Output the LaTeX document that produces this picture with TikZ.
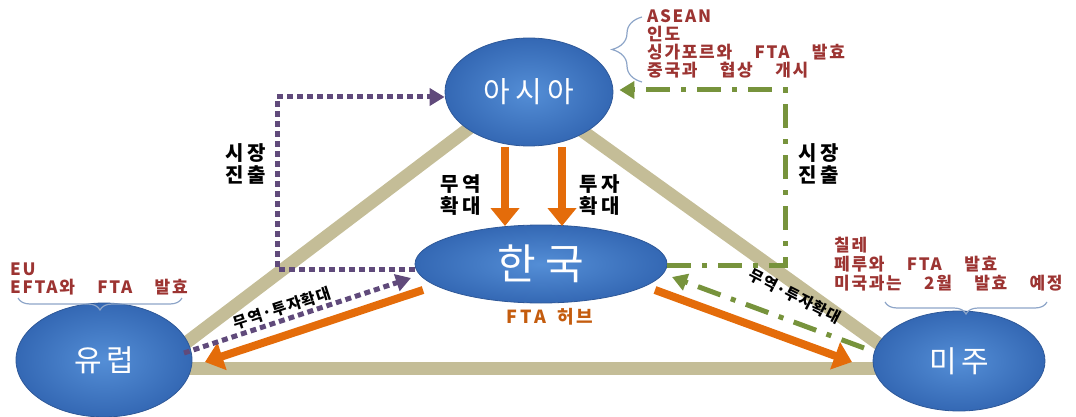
\documentclass[tikz,border=0pt]{standalone}
\usepackage{fontspec}
\setmainfont{Noto Sans CJK KR}
\newfontfamily\redfont[LetterSpace=10,WordSpace=4]{Noto Sans CJK KR}
\newfontfamily\lblfont[LetterSpace=18,WordSpace=2]{Noto Sans CJK KR}
\newfontfamily\hubfont[LetterSpace=16,WordSpace=1.6]{Noto Sans CJK KR}
\usetikzlibrary{arrows.meta,decorations.pathreplacing,shapes.geometric,calc}
\definecolor{tanline}{RGB}{196,189,151}
\definecolor{orangec}{RGB}{228,108,10}
\definecolor{huborange}{RGB}{196,92,14}
\definecolor{purplec}{RGB}{96,74,123}
\definecolor{greenc}{RGB}{119,147,60}
\definecolor{redtxt}{RGB}{156,52,50}
\definecolor{bracec}{RGB}{141,165,200}
\definecolor{blueinner}{RGB}{84,142,214}
\definecolor{blueouter}{RGB}{52,104,180}
\definecolor{blueedge}{RGB}{46,88,152}
\begin{document}
\begin{tikzpicture}[x=1pt,y=-1pt,
  ell/.style={ellipse, draw=blueedge, line width=0.8pt, inner color=blueinner, outer color=blueouter, text=white, inner sep=0pt},
  tanl/.style={draw=tanline, line width=13pt},
  oarr/.style={draw=orangec, line width=8pt, -{Triangle[width=28pt,length=18pt]}},
  pdot/.style={draw=purplec, line width=5pt, dash pattern=on 6pt off 4pt},
  gdash/.style={draw=greenc, line width=5pt, dash pattern=on 24pt off 11pt on 5pt off 11pt},
  smalltip/.style={-{Triangle[width=17pt,length=15pt]}},
  lbl/.style={align=center, font=\lblfont\fontsize{20}{22}\selectfont\bfseries},
  rtxt/.style={text=redtxt, anchor=base west, inner sep=0pt, font=\redfont\fontsize{17}{18}\selectfont\bfseries},
  rotl/.style={font=\fontsize{15.5}{17}\selectfont\bfseries\addfontfeatures{LetterSpace=6}},
  brc/.style={draw=bracec, line width=1.2pt, decorate},
]
\useasboundingbox (0,0) rectangle (1076,417);
% triangle
\coordinate (tl1) at (170,355);
\coordinate (tl2) at (480,120);
\coordinate (tr1) at (567,120);
\coordinate (tr2) at (890,352);
\coordinate (tb1) at (185,368);
\coordinate (tb2) at (885,368);
\draw[tanl] (tl1) -- (tl2);
\draw[tanl] (tr1) -- (tr2);
\draw[tanl] (tb1) -- (tb2);
% ellipses
\node[ell, minimum width=168pt, minimum height=108pt, font=\fontsize{29}{30}\selectfont\addfontfeatures{LetterSpace=18}] (asia) at (529,92) {아시아};
\node[ell, minimum width=252pt, minimum height=78pt, font=\fontsize{42}{44}\selectfont\addfontfeatures{LetterSpace=22}] (kor) at (541,264) {한국};
\node[ell, minimum width=176pt, minimum height=114pt, font=\fontsize{30}{30}\selectfont\addfontfeatures{LetterSpace=15}] (eu) at (104,360) {유럽};
\node[ell, minimum width=172pt, minimum height=100pt, font=\fontsize{30}{30}\selectfont\addfontfeatures{LetterSpace=15}] (am) at (959,361) {미주};
% orange arrows
\coordinate (o1a) at (505,147);
\coordinate (o1b) at (505,226);
\coordinate (o2a) at (562,147);
\coordinate (o2b) at (562,226);
\coordinate (o3a) at (423,290);
\coordinate (o3b) at (205,362);
\coordinate (o4a) at (655,290);
\coordinate (o4b) at (852,362);
\draw[oarr] (o1a) -- (o1b);
\draw[oarr] (o2a) -- (o2b);
\draw[oarr] (o3a) -- (o3b);
\draw[oarr] (o4a) -- (o4b);
% purple dotted
\coordinate (p1) at (277,269);
\coordinate (p2) at (277,97);
\draw[pdot, smalltip] (kor.west |- p1) -- (p1) -- (p2) -- (asia.west |- p2);
\coordinate (p3) at (184,353);
\coordinate (p4) at (411,278);
\draw[pdot, smalltip] (p3) -- (p4);
% green dash-dot
\coordinate (g1) at (785,265);
\coordinate (g2) at (785,90);
\draw[gdash, smalltip] (kor.east |- g1) -- (g1) -- (g2) -- ($(asia.east |- g2)+(6,0)$);
\coordinate (g3) at (864,348);
\coordinate (g4) at (672,277);
\draw[gdash, smalltip] (g3) -- (g4);
% labels
\node[lbl] (sj1) at (246,164) {시장\\진출};
\node[lbl] (sj2) at (819,164) {시장\\진출};
\node[lbl] (my) at (461,195) {무역\\확대};
\node[lbl] (tj) at (600,195) {투자\\확대};
\node[font=\hubfont\fontsize{18}{20}\selectfont\bfseries, text=huborange] (hub) at (550,317) {FTA 허브};
\node[rotl, rotate=18] (mt1) at (282,308) {무역·투자확대};
\node[rotl, rotate=-27] (mt2) at (795,296) {무역·투자확대};
% red annotations
\node[rtxt] (a1) at (647,23) {ASEAN};
\node[rtxt] (a2) at (647,41) {인도};
\node[rtxt] (a3) at (647,59) {싱가포르와 FTA 발효};
\node[rtxt] (a4) at (647,77) {중국과 협상 개시};
\node[rtxt] (e1) at (10,275) {EU};
\node[rtxt] (e2) at (10,293) {EFTA와 FTA 발효};
\node[rtxt] (m1) at (834,251) {칠레};
\node[rtxt] (m2) at (834,270) {페루와 FTA 발효};
\node[rtxt] (m3) at (834,289) {미국과는 2월 발효 예정};
% braces
\coordinate (b1a) at (642,82);
\coordinate (b1b) at (642,17);
\draw[brc, decoration={brace, amplitude=30pt}] (b1a) -- (b1b);
\coordinate (b2a) at (182,298);
\coordinate (b2b) at (18,298);
\draw[brc, decoration={brace, amplitude=12pt}] (b2a) -- (b2b);
\coordinate (b3a) at (1047,302);
\coordinate (b3b) at (885,302);
\draw[brc, decoration={brace, amplitude=12pt}] (b3a) -- (b3b);
\end{tikzpicture}
\end{document}
